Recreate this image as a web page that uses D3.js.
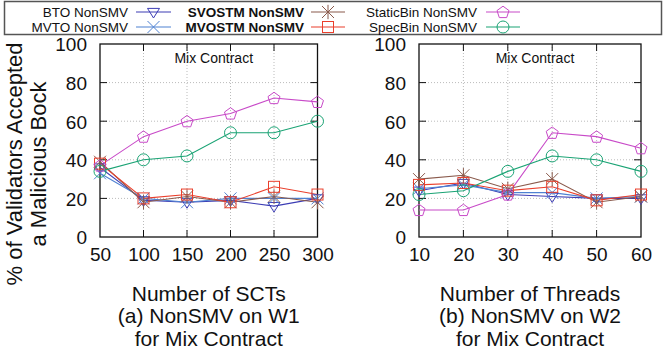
<!DOCTYPE html>
<html><head><meta charset="utf-8">
<script src="https://cdn.jsdelivr.net/npm/d3@7"></script>
<style>body{margin:0;background:#fff}svg{display:block;font-family:"Liberation Sans",Arial,sans-serif}</style>
</head><body><svg id="c" width="665" height="354"></svg>
<script>
const sctX = [50, 100, 150, 200, 250, 300];
const threadX = [10, 20, 30, 40, 50, 60];
const yTicks = [0, 20, 40, 60, 80, 100];
const seriesNames = ["BTO NonSMV", "MVTO NonSMV", "SVOSTM NonSMV", "MVOSTM NonSMV", "StaticBin NonSMV", "SpecBin NonSMV"];
// panel (a): W1, by number of SCTs
const btoA = [36, 19, 18, 19, 16, 20];
const mvtoA = [33, 20, 18, 20, 20, 20];
const svostmA = [39, 18, 21, 18, 21, 18];
const mvostmA = [38, 20, 22, 18, 26, 22];
const staticA = [37, 52, 60, 64, 72, 70];
const specA = [34, 40, 42, 54, 54, 60];
// panel (b): W2, by number of threads
const btoB = [24, 28, 22, 21, 20, 20];
const mvtoB = [25, 27, 23, 23, 20, 21];
const svostmB = [30, 32, 25, 30, 18, 21];
const mvostmB = [27, 28, 24, 26, 19, 22];
const staticB = [14, 14, 22, 54, 52, 46];
const specB = [22, 24, 34, 42, 40, 34];

const colors = ["#3c3cb4", "#4f82d2", "#8a5a4c", "#ea3f2c", "#c84ac8", "#1aa374"];
const shapes = ["tri", "x", "star", "square", "pent", "circle"];
const bold = [false, false, true, true, false, false];

const svg = d3.select("#c");
const F = '"Liberation Sans",Arial,sans-serif';

function marker(g, shape, cx, cy, col) {
  const s = g.append("g").attr("transform", `translate(${cx},${cy})`)
    .attr("fill", "none").attr("stroke", col).attr("stroke-width", 1);
  const r = 6;
  if (shape === "tri") s.append("path").attr("d", `M${-r},${-r*0.6}L${r},${-r*0.6}L0,${r*1.0}Z`);
  else if (shape === "x") s.append("path").attr("d", `M${-r},${-r}L${r},${r}M${-r},${r}L${r},${-r}`);
  else if (shape === "star") s.append("path").attr("d", `M${-r},${-r}L${r},${r}M${-r},${r}L${r},${-r}M0,${-r*1.2}L0,${r*1.2}`);
  else if (shape === "square") s.append("rect").attr("x", -r+0.5).attr("y", -r+0.5).attr("width", 2*r-1).attr("height", 2*r-1);
  else if (shape === "circle") s.append("circle").attr("r", r);
  else if (shape === "pent") {
    const pts = d3.range(5).map(i => { const a = -Math.PI/2 + i*2*Math.PI/5; return [r*1.05*Math.cos(a), r*1.05*Math.sin(a)+0.5]; });
    s.append("path").attr("d", "M" + pts.map(p => p.join(",")).join("L") + "Z");
  }
}

function panel(x0, x1, xs, data, lines) {
  const y0 = 237, yTop = 44;
  const x = d3.scaleLinear().domain([xs[0], xs[xs.length-1]]).range([x0, x1]);
  const y = d3.scaleLinear().domain([0, 100]).range([y0, yTop]);
  const g = svg.append("g");
  g.selectAll(".gx").data(xs.slice(1, -1)).join("line")
    .attr("x1", d => x(d)).attr("x2", d => x(d)).attr("y1", y0).attr("y2", yTop)
    .attr("stroke", "#bbb").attr("stroke-width", 1).attr("stroke-dasharray", "1,2");
  g.selectAll(".gy").data(yTicks.slice(1, -1)).join("line")
    .attr("x1", x0).attr("x2", x1).attr("y1", d => y(d)).attr("y2", d => y(d))
    .attr("stroke", "#bbb").attr("stroke-width", 1).attr("stroke-dasharray", "1,2");
  const ax = d3.axisBottom(x).tickValues(xs).tickSize(0).tickPadding(11).tickFormat(d3.format("d"));
  const ag = g.append("g").attr("transform", `translate(0,${y0})`).call(ax);
  ag.select(".domain").remove();
  ag.selectAll("text").attr("font-size", 19).attr("font-family", F).attr("fill", "#111");
  const ay = d3.axisLeft(y).tickValues(yTicks).tickSize(0).tickPadding(13);
  const yg = g.append("g").attr("transform", `translate(${x0},0)`).call(ay);
  yg.select(".domain").remove();
  yg.selectAll("text").attr("font-size", 19).attr("font-family", F).attr("fill", "#111").attr("dy", "0.36em");
  const tl = 7;
  xs.slice(1, -1).forEach(v => {
    g.append("line").attr("x1", x(v)).attr("x2", x(v)).attr("y1", y0).attr("y2", y0 - tl).attr("stroke", "#111");
    g.append("line").attr("x1", x(v)).attr("x2", x(v)).attr("y1", yTop).attr("y2", yTop + tl).attr("stroke", "#111");
  });
  yTicks.slice(1, -1).forEach(v => {
    g.append("line").attr("x1", x0).attr("x2", x0 + tl).attr("y1", y(v)).attr("y2", y(v)).attr("stroke", "#111");
    g.append("line").attr("x1", x1).attr("x2", x1 - tl).attr("y1", y(v)).attr("y2", y(v)).attr("stroke", "#111");
  });
  g.append("rect").attr("x", x0).attr("y", yTop).attr("width", x1 - x0).attr("height", y0 - yTop)
    .attr("fill", "none").attr("stroke", "#111").attr("stroke-width", 1.3);
  g.append("text").attr("x", (x0 + x1) / 2 + 5).attr("y", yTop + 19).attr("text-anchor", "middle")
    .attr("font-size", 14).attr("font-family", F).attr("fill", "#111").text("Mix Contract");
  const line = d3.line().x((d, i) => x(xs[i])).y(d => y(d));
  data.forEach((vals, k) => {
    g.append("path").attr("d", line(vals)).attr("fill", "none").attr("stroke", colors[k]).attr("stroke-width", 1.1);
  });
  data.forEach((vals, k) => {
    vals.forEach((v, i) => marker(g, shapes[k], x(xs[i]), y(v), colors[k]));
  });
  const cx = (x0 + x1) / 2;
  lines.forEach((s, i) => {
    svg.append("text").attr("x", cx).attr("y", 300.5 + i * 22.5).attr("text-anchor", "middle")
      .attr("font-size", 21).attr("font-family", F).attr("fill", "#111").text(s);
  });
}

panel(100, 317.5, sctX, [btoA, mvtoA, svostmA, mvostmA, staticA, specA], ["Number of SCTs", "(a) NonSMV on W1", "for Mix Contract"]);
panel(419, 641, threadX, [btoB, mvtoB, svostmB, mvostmB, staticB, specB], ["Number of Threads", "(b) NonSMV on W2", "for Mix Contract"]);

// y label
[["% of Validators Accepted", 22], ["a Malicious Bock", 46]].forEach(([t, bx]) => {
  svg.append("text").attr("transform", `translate(${bx},164) rotate(-90)`).attr("text-anchor", "middle")
    .attr("font-size", 22).attr("font-family", F).attr("fill", "#111").text(t);
});

// legend
svg.append("rect").attr("x", 4.5).attr("y", 1.5).attr("width", 657).attr("height", 33)
  .attr("fill", "#fff").attr("stroke", "#555").attr("stroke-width", 1.5);
const colTextEnd = [128, 304, 477];
const colLine = [[136, 171], [311, 345], [486, 520]];
const rowY = [12, 27];
seriesNames.forEach((name, k) => {
  const c = Math.floor(k / 2), r = k % 2;
  svg.append("text").attr("x", colTextEnd[c]).attr("y", rowY[r]).attr("dy", "0.36em").attr("text-anchor", "end")
    .attr("font-size", 13.5).attr("font-weight", bold[k] ? "bold" : "normal").attr("font-family", F).attr("fill", "#111").text(name);
  svg.append("line").attr("x1", colLine[c][0]).attr("x2", colLine[c][1]).attr("y1", rowY[r]).attr("y2", rowY[r])
    .attr("stroke", colors[k]).attr("stroke-width", 1.1);
  marker(svg, shapes[k], (colLine[c][0] + colLine[c][1]) / 2, rowY[r], colors[k]);
});
</script></body></html>
